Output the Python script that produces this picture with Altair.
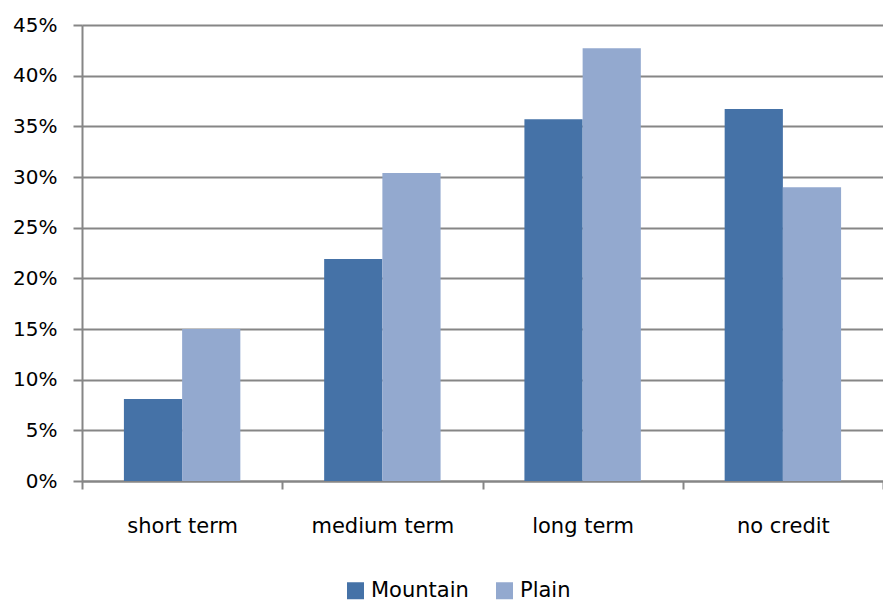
import altair as alt
import pandas as pd

categories = ["short term", "medium term", "long term", "no credit"]
series = ["Mountain", "Plain"]
mountain = [0.081, 0.219, 0.357, 0.367]
plain = [0.150, 0.304, 0.427, 0.290]
y_ticks = [0, 0.05, 0.10, 0.15, 0.20, 0.25, 0.30, 0.35, 0.40, 0.45]
colors = ["#4572A7", "#93A9CF"]

rows = []
for i, c in enumerate(categories):
    rows.append({"term": c, "area": series[0], "share": mountain[i]})
    rows.append({"term": c, "area": series[1], "share": plain[i]})
df = pd.DataFrame(rows)

grey = "#868686"
font = "DejaVu Sans"

chart = (
    alt.Chart(df)
    .mark_bar()
    .encode(
        x=alt.X(
            "term:N",
            sort=categories,
            title=None,
            scale=alt.Scale(paddingInner=0, paddingOuter=0),
            axis=alt.Axis(
                labelAngle=0,
                labelFontSize=21,
                labelFont=font,
                labelColor="#000000",
                labelPadding=26,
                tickBand="extent",
                tickSize=8,
                tickColor=grey,
                tickWidth=2,
                domainColor=grey,
                domainWidth=2,
                grid=False,
            ),
        ),
        xOffset=alt.XOffset(
            "area:N",
            sort=series,
            scale=alt.Scale(paddingInner=0, paddingOuter=0.72),
        ),
        y=alt.Y(
            "share:Q",
            title=None,
            scale=alt.Scale(domain=[0, 0.45], nice=False),
            axis=alt.Axis(
                values=y_ticks,
                format=".0%",
                labelFontSize=20,
                labelFont=font,
                labelColor="#000000",
                labelPadding=16,
                tickSize=9,
                tickColor=grey,
                tickWidth=2,
                domainColor=grey,
                domainWidth=2,
                gridColor=grey,
                gridWidth=2,
                gridOpacity=1,
            ),
        ),
        color=alt.Color(
            "area:N",
            sort=series,
            scale=alt.Scale(domain=series, range=colors),
            legend=alt.Legend(
                title=None,
                orient="none",
                direction="horizontal",
                legendX=263,
                legendY=555,
                symbolType="square",
                symbolSize=289,
                symbolStrokeWidth=0,
                symbolOpacity=1,
                labelFontSize=21,
                labelFont=font,
                labelColor="#000000",
                columnPadding=25,
                labelOffset=5,
            ),
        ),
    )
    .properties(
        width=801,
        height=456,
        autosize=alt.AutoSizeParams(type="none"),
        padding={"left": 82, "top": 25, "right": 0, "bottom": 120},
    )
    .configure_view(stroke=None)
    .configure(background="#ffffff")
)

chart.save("out.html", embed_options={"renderer": "svg", "actions": False})
